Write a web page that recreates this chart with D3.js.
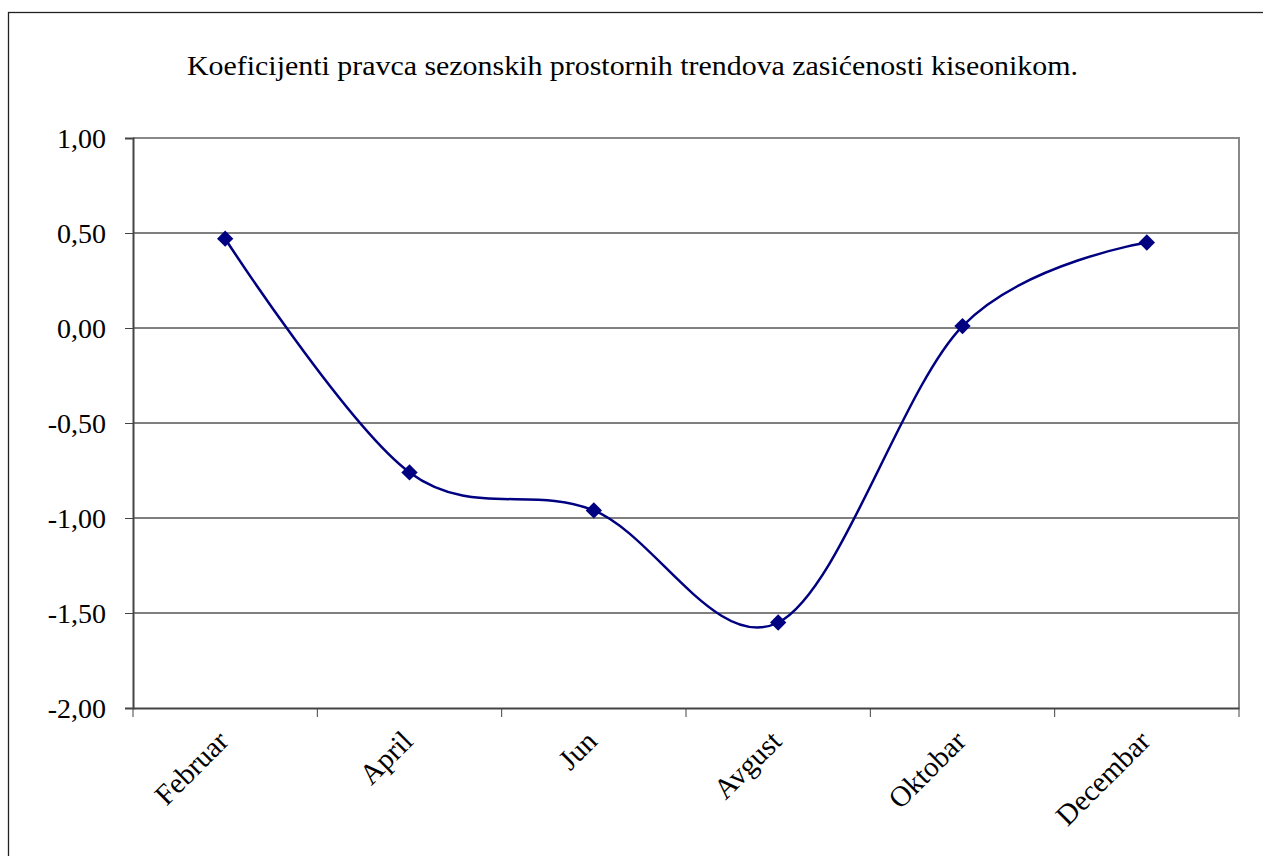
<!DOCTYPE html>
<html><head><meta charset="utf-8">
<script src="https://cdn.jsdelivr.net/npm/d3@7"></script>
<style>body{margin:0;background:#fff;} svg{display:block;}</style>
</head><body>
<svg id="c" width="1263" height="856"></svg>
<script>
const title = "Koeficijenti pravca sezonskih prostornih trendova zasićenosti kiseonikom.";
const categories = ["Februar","April","Jun","Avgust","Oktobar","Decembar"];
const values = [0.47, -0.76, -0.96, -1.55, 0.01, 0.45];
const yTicks = [1.0, 0.5, 0.0, -0.5, -1.0, -1.5, -2.0];

const svg = d3.select("#c");
const font = "'Liberation Serif', 'DejaVu Serif', serif";
const L = 133, R = 1239, T = 138, B = 708;

// outer frame
svg.append("rect").attr("x", 8.5).attr("y", 12.5).attr("width", 1300).attr("height", 900)
  .attr("fill", "#fff").attr("stroke", "#222").attr("stroke-width", 1.3);

svg.append("text").attr("x", 632.5).attr("y", 75).attr("text-anchor", "middle")
  .attr("font-family", font).attr("font-size", 28).attr("fill", "#000")
  .attr("textLength", 891).attr("lengthAdjust", "spacingAndGlyphs").text(title);

const y = d3.scaleLinear().domain([-2, 1]).range([B, T]);
const xb = d3.scaleBand().domain(categories).range([L, R]);
const xc = d => xb(d) + xb.bandwidth() / 2;

// gridlines
svg.append("g").selectAll("line").data(yTicks.filter(v => v > -2 && v < 1)).join("line")
  .attr("x1", L).attr("x2", R).attr("y1", d => y(d)).attr("y2", d => y(d))
  .attr("stroke", "#000").attr("stroke-width", 1);

// plot border top/right grey
svg.append("path").attr("d", `M${L},${T}H${R}V${B}`).attr("fill", "none")
  .attr("stroke", "#888").attr("stroke-width", 2);

// y axis
const fmt = v => d3.format(".2f")(v).replace(".", ",").replace("−", "-");
const ya = svg.append("g").attr("transform", `translate(${L},0)`)
  .call(d3.axisLeft(y).tickValues(yTicks).tickSize(8).tickPadding(19).tickFormat(fmt));
ya.select(".domain").attr("stroke", "#444").attr("stroke-width", 2);
ya.selectAll(".tick line").attr("stroke", "#444");
ya.selectAll("text").attr("font-family", font).attr("font-size", 28).attr("fill", "#000").attr("dy", "0.33em");

// x axis with ticks at category boundaries
const xa = svg.append("g").attr("transform", `translate(0,${B})`)
  .call(d3.axisBottom(xb).tickSize(0).tickFormat(""));
xa.select(".domain").attr("stroke", "#444").attr("stroke-width", 2);
const bounds = categories.map(c => xb(c)).concat([R]);
svg.append("g").selectAll("line").data(bounds).join("line")
  .attr("x1", d => d).attr("x2", d => d).attr("y1", B).attr("y2", B + 9)
  .attr("stroke", "#444").attr("stroke-width", 1);
svg.append("g").selectAll("text").data(categories).join("text")
  .attr("transform", d => `translate(${xc(d) + 5},${B + 35}) rotate(-45)`)
  .attr("text-anchor", "end").attr("font-family", font).attr("font-size", 29).attr("fill", "#000")
  .text(d => d);

// smoothed line
const pts = categories.map((c, i) => [xc(c), y(values[i])]);
svg.append("path").datum(pts)
  .attr("d", d3.line().curve(d3.curveCardinal.tension(0)))
  .attr("fill", "none").attr("stroke", "#000080").attr("stroke-width", 2.5);

// diamonds
svg.append("g").selectAll("path").data(pts).join("path")
  .attr("transform", d => `translate(${d[0]},${d[1]})`)
  .attr("d", d3.symbol(d3.symbolDiamond2, 170)())
  .attr("fill", "#000080");
</script>
</body></html>
